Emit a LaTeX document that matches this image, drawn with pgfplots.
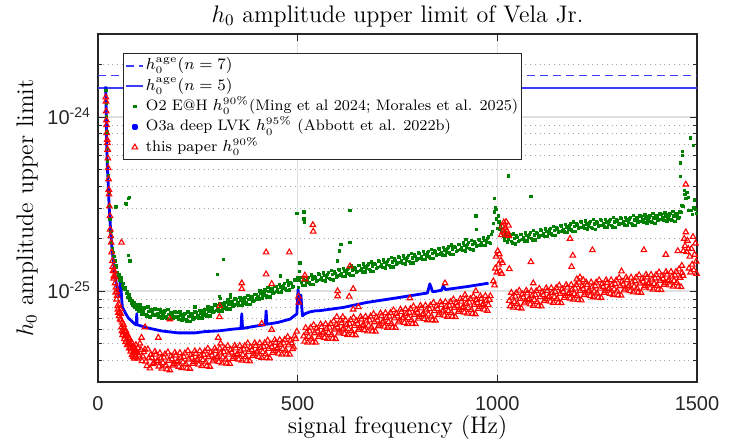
\documentclass[border=0pt]{standalone}
\usepackage{fontspec}
\setsansfont{Liberation Sans}
\usepackage{pgfplots}
\pgfplotsset{compat=1.18}
\definecolor{agecol}{RGB}{60,60,255}
\definecolor{o2green}{RGB}{0,128,0}
\definecolor{axgray}{RGB}{38,38,38}
\pgfplotsset{
  shortline legend/.style={legend image code/.code={\draw[##1] (0cm,0cm) -- (0.3cm,0cm);}},
  shortmark legend/.style={legend image code/.code={\draw[mark repeat=2,mark phase=2,##1] plot coordinates {(0cm,0cm) (0.15cm,0cm) (0.3cm,0cm)};}},
  bluedot legend/.style={legend image code/.code={\fill[blue] (0.15cm-0.7pt,-0.7pt) rectangle (0.15cm+0.7pt,0.7pt);}},
}
\begin{document}
\begin{tikzpicture}
\begin{axis}[
  scale only axis, width=299.5pt, height=174pt,
  xmin=0, xmax=1500, ymode=log, ymin=3e-26, ymax=3e-24,
  xtick={0,500,1000,1500}, xticklabels={0,500,1000,1500},
  ytick={1e-25,1e-24}, yticklabels={10\textsuperscript{-25},10\textsuperscript{-24}},
  minor ytick={4e-26,5e-26,6e-26,7e-26,8e-26,9e-26,2e-25,3e-25,4e-25,5e-25,6e-25,7e-25,8e-25,9e-25,2e-24},
  xmajorgrids, ymajorgrids, yminorgrids,
  major grid style={black!12, line width=0.8pt},
  minor grid style={black!35, dotted, line width=0.5pt},
  tick align=inside, xtick pos=both, ytick pos=both,
  major tick length=3.5pt, minor tick length=2pt,
  axis line style={axgray, line width=0.6pt},
  every tick/.style={axgray, line width=0.5pt},
  ticklabel style={font=\sffamily\fontsize{10}{12}\selectfont, text=axgray},
  xticklabel shift=3.7pt,
  yticklabel style={anchor=base east, yshift=-3.6pt},
  title={$h_0$ amplitude upper limit of Vela Jr.},
  title style={font=\fontsize{12}{14}\selectfont, at={(axis description cs:0.5,1)}, anchor=base},
  xlabel={signal frequency (Hz)},
  xlabel style={font=\fontsize{12}{14}\selectfont, at={(axis description cs:0.5,-0.1466)}, anchor=base},
  ylabel={$h_0$ amplitude upper limit},
  ylabel style={font=\fontsize{12}{14}\selectfont, at={(axis description cs:-0.1085,0.5)}, anchor=base},
  legend style={at={(axis description cs:0.0417,0.9454)}, anchor=north west, draw=axgray, line width=0.5pt, fill=white,
    font=\fontsize{7.6}{9}\selectfont, inner xsep=1pt, inner ysep=1pt, row sep=0pt,
    nodes={inner sep=0.9pt, text height=6.2pt, text depth=2.2pt}},
  legend cell align=left,
]
\addplot[agecol, dash pattern=on 4pt off 2.5pt, line width=0.8pt, shortline legend] coordinates {(0,1.73e-24) (1500,1.73e-24)};
\addlegendentry{$h_0^{\mathrm{age}}(n=7)$}
\addplot[agecol, line width=0.8pt, shortline legend] coordinates {(0,1.47e-24) (1500,1.47e-24)};
\addlegendentry{$h_0^{\mathrm{age}}(n=5)$}

% O2 E@H
\addplot[only marks, mark=square*, mark size=0.6pt, o2green, shortmark legend] coordinates {
(20,1.42e-24) (20.5,1.2e-24) (21,1.0e-24) (22,8.2e-25) (23,6.6e-25) (24,5.6e-25) (25.5,4.6e-25) (27,3.7e-25) (28.5,3.1e-25) (30,2.6e-25)
(32,2.2e-25) (34,1.9e-25) (36,1.75e-25) (38.4,1.67e-25) (40,1.58e-25) (42.6,1.49e-25) (45,1.40e-25) (46.7,1.37e-25) (49,1.28e-25) (51,1.22e-25)
(53,1.25e-25) (55,1.16e-25) (57,1.19e-25) (59,1.14e-25) (61,1.08e-25) (63,1.11e-25) (65,1.04e-25) (67,1.02e-25) (69,1.05e-25) (71,9.7e-26)
(73,9.9e-26) (75,9.2e-26) (77,9.5e-26) (79,8.9e-26) (81,9.1e-26) (83,8.5e-26) (85,8.8e-26) (87,8.3e-26) (90,8.6e-26) (92,8.1e-26) (95,8.4e-26) (97,7.9e-26)
(100,8.00e-26) (105,8.37e-26) (110,7.41e-26) (115,7.93e-26) (120,7.37e-26) (125,8.10e-26) (130,7.09e-26) (135,7.66e-26) (140,7.33e-26) (145,7.82e-26)
(150,7.42e-26) (155,7.84e-26) (160,7.01e-26) (165,7.58e-26) (170,7.12e-26) (175,7.83e-26) (180,6.85e-26) (185,7.41e-26) (190,7.09e-26) (195,7.56e-26)
(200,7.17e-26) (205,7.58e-26) (210,6.77e-26) (215,7.33e-26) (220,6.90e-26) (225,7.60e-26) (230,6.67e-26) (235,7.26e-26) (240,7.02e-26) (245,7.56e-26)
(250,7.25e-26) (255,7.76e-26) (260,7.02e-26) (265,7.68e-26) (270,7.30e-26) (275,8.13e-26) (280,7.21e-26) (285,7.89e-26) (290,7.65e-26) (295,8.27e-26)
(300,7.95e-26) (305,8.51e-26) (310,7.71e-26) (315,8.45e-26) (320,8.01e-26) (325,8.90e-26) (330,7.88e-26) (335,8.61e-26) (340,8.33e-26) (345,8.98e-26)
(350,8.60e-26) (355,9.17e-26) (360,8.27e-26) (365,9.01e-26) (370,8.54e-26) (375,9.47e-26) (380,8.37e-26) (385,9.13e-26) (390,8.82e-26) (395,9.56e-26)
(400,9.30e-26) (405,10.02e-26) (410,9.07e-26) (415,9.91e-26) (420,9.41e-26) (425,10.46e-26) (430,9.27e-26) (435,10.14e-26) (440,9.82e-26) (445,10.61e-26)
(450,10.20e-26) (455,10.92e-26) (460,9.88e-26) (465,10.82e-26) (470,10.28e-26) (475,11.45e-26) (480,10.15e-26) (485,11.07e-26) (490,10.68e-26) (495,11.55e-26)
(102.5,7.63e-26) (107.5,8.01e-26) (112.5,7.67e-26) (117.5,8.03e-26) (122.5,7.20e-26) (127.5,7.63e-26) (132.5,7.82e-26) (137.5,7.28e-26) (142.5,7.91e-26) (147.5,7.28e-26)
(152.5,7.11e-26) (157.5,7.54e-26) (162.5,7.30e-26) (167.5,7.72e-26) (172.5,6.96e-26) (177.5,7.37e-26) (182.5,7.56e-26) (187.5,7.02e-26) (192.5,7.64e-26) (197.5,7.04e-26)
(202.5,6.87e-26) (207.5,7.28e-26) (212.5,7.05e-26) (217.5,7.47e-26) (222.5,6.75e-26) (227.5,7.17e-26) (232.5,7.39e-26) (237.5,6.93e-26) (242.5,7.61e-26) (247.5,7.08e-26)
(252.5,6.99e-26) (257.5,7.50e-26) (262.5,7.35e-26) (267.5,7.86e-26) (272.5,7.18e-26) (277.5,7.71e-26) (282.5,8.01e-26) (287.5,7.54e-26) (292.5,8.31e-26) (297.5,7.75e-26)
(302.5,7.67e-26) (307.5,8.23e-26) (312.5,8.08e-26) (317.5,8.64e-26) (322.5,7.88e-26) (327.5,8.43e-26) (332.5,8.75e-26) (337.5,8.22e-26) (342.5,9.03e-26) (347.5,8.40e-26)
(352.5,8.28e-26) (357.5,8.84e-26) (362.5,8.63e-26) (367.5,9.21e-26) (372.5,8.38e-26) (377.5,8.96e-26) (382.5,9.28e-26) (387.5,8.70e-26) (392.5,9.59e-26) (397.5,9.02e-26)
(402.5,9.00e-26) (407.5,9.69e-26) (412.5,9.48e-26) (417.5,10.14e-26) (422.5,9.25e-26) (427.5,9.92e-26) (432.5,10.30e-26) (437.5,9.68e-26) (442.5,10.66e-26) (447.5,9.95e-26)
(452.5,9.84e-26) (457.5,10.56e-26) (462.5,10.35e-26) (467.5,11.08e-26) (472.5,10.12e-26) (477.5,10.86e-26) (482.5,11.25e-26) (487.5,10.54e-26) (492.5,11.61e-26)
(498,2.8e-25) (500,1.2e-25) (502,1.05e-25) (503,1.15e-25) (504,1.3e-25) (506,1.45e-25) (508,1.2e-25) (516,2.85e-25) (516,2.6e-25) (517,2.5e-25)
(510,11.20e-26) (515,11.95e-26) (520,10.77e-26) (525,11.76e-26) (530,11.15e-26) (535,12.37e-26) (540,10.93e-26) (545,11.93e-26) (550,11.54e-26) (555,12.44e-26)
(560,11.92e-26) (565,12.71e-26) (570,11.46e-26) (575,12.50e-26) (580,11.84e-26) (585,13.14e-26) (590,11.61e-26) (595,12.67e-26) (600,12.25e-26) (605,13.21e-26)
(610,12.65e-26) (615,13.49e-26) (620,12.16e-26) (625,13.27e-26) (630,12.56e-26) (635,13.94e-26) (640,12.31e-26) (645,13.44e-26) (650,12.99e-26) (655,14.00e-26)
(660,13.40e-26) (665,14.29e-26) (670,12.87e-26) (675,14.04e-26) (680,13.29e-26) (685,14.74e-26) (690,13.02e-26) (695,14.21e-26) (700,13.72e-26) (705,14.78e-26)
(710,14.16e-26) (715,15.09e-26) (720,13.60e-26) (725,14.83e-26) (730,14.05e-26) (735,15.58e-26) (740,13.76e-26) (745,15.01e-26) (750,14.50e-26) (755,15.62e-26)
(760,14.96e-26) (765,15.94e-26) (770,14.36e-26) (775,15.66e-26) (780,14.82e-26) (785,16.44e-26) (790,14.51e-26) (795,15.83e-26) (800,15.29e-26) (805,16.49e-26)
(810,15.79e-26) (815,16.84e-26) (820,15.18e-26) (825,16.56e-26) (830,15.68e-26) (835,17.41e-26) (840,15.38e-26) (845,16.79e-26) (850,16.22e-26) (855,17.48e-26)
(860,16.74e-26) (865,17.85e-26) (870,16.08e-26) (875,17.54e-26) (880,16.61e-26) (885,18.43e-26) (890,16.27e-26) (895,17.76e-26) (900,17.15e-26) (905,18.49e-26)
(910,17.72e-26) (915,18.90e-26) (920,17.04e-26) (925,18.59e-26) (930,17.62e-26) (935,19.55e-26) (940,17.28e-26) (945,18.86e-26) (950,18.23e-26) (955,19.71e-26)
(960,18.94e-26) (965,20.26e-26) (970,18.32e-26) (975,20.03e-26) (980,19.03e-26) (985,21.19e-26)
(512.5,10.78e-26) (517.5,11.53e-26) (522.5,11.27e-26) (527.5,12.02e-26) (532.5,10.94e-26) (537.5,11.72e-26) (542.5,12.14e-26) (547.5,11.39e-26) (552.5,12.52e-26) (557.5,11.64e-26)
(562.5,11.48e-26) (567.5,12.27e-26) (572.5,11.98e-26) (577.5,12.78e-26) (582.5,11.64e-26) (587.5,12.44e-26) (592.5,12.89e-26) (597.5,12.09e-26) (602.5,13.29e-26) (607.5,12.37e-26)
(612.5,12.18e-26) (617.5,13.03e-26) (622.5,12.71e-26) (627.5,13.57e-26) (632.5,12.34e-26) (637.5,13.20e-26) (642.5,13.67e-26) (647.5,12.82e-26) (652.5,14.09e-26) (657.5,13.10e-26)
(662.5,12.90e-26) (667.5,13.79e-26) (672.5,13.45e-26) (677.5,14.35e-26) (682.5,13.05e-26) (687.5,13.96e-26) (692.5,14.45e-26) (697.5,13.55e-26) (702.5,14.88e-26) (707.5,13.84e-26)
(712.5,13.63e-26) (717.5,14.57e-26) (722.5,14.22e-26) (727.5,15.16e-26) (732.5,13.79e-26) (737.5,14.75e-26) (742.5,15.27e-26) (747.5,14.32e-26) (752.5,15.73e-26) (757.5,14.62e-26)
(762.5,14.40e-26) (767.5,15.38e-26) (772.5,15.01e-26) (777.5,16.00e-26) (782.5,14.55e-26) (787.5,15.55e-26) (792.5,16.10e-26) (797.5,15.09e-26) (802.5,16.59e-26) (807.5,15.44e-26)
(812.5,15.21e-26) (817.5,16.26e-26) (822.5,15.87e-26) (827.5,16.94e-26) (832.5,15.41e-26) (837.5,16.48e-26) (842.5,17.07e-26) (847.5,16.01e-26) (852.5,17.60e-26) (857.5,16.37e-26)
(862.5,16.12e-26) (867.5,17.23e-26) (872.5,16.81e-26) (877.5,17.93e-26) (882.5,16.31e-26) (887.5,17.44e-26) (892.5,18.05e-26) (897.5,16.94e-26) (902.5,18.61e-26) (907.5,17.32e-26)
(912.5,17.07e-26) (917.5,18.25e-26) (922.5,17.82e-26) (927.5,19.02e-26) (932.5,17.31e-26) (937.5,18.51e-26) (942.5,19.18e-26) (947.5,17.99e-26) (952.5,19.80e-26) (957.5,18.47e-26)
(962.5,18.26e-26) (967.5,19.58e-26) (972.5,19.18e-26) (977.5,20.52e-26) (982.5,18.72e-26)
(988,2.20e-25) (990,2.45e-25) (992,2.85e-25) (993,3.40e-25) (995,3.00e-25) (997,2.60e-25) (998,2.95e-25) (1000,2.30e-25) (1002,2.70e-25) (1004,2.50e-25)
(1006,2.26e-25) (1008,2.40e-25) (1010,2.18e-25) (1012,2.30e-25)
(1015,20.60e-26) (1020,21.62e-26) (1025,19.19e-26) (1030,20.60e-26) (1035,19.35e-26) (1040,21.29e-26) (1045,18.71e-26) (1050,20.30e-26) (1055,19.60e-26) (1060,21.11e-26)
(1065,20.20e-26) (1070,21.56e-26) (1075,19.44e-26) (1080,21.20e-26) (1085,20.08e-26) (1090,22.26e-26) (1095,19.65e-26) (1100,21.42e-26) (1105,20.71e-26) (1110,22.32e-26)
(1115,21.40e-26) (1120,22.82e-26) (1125,20.58e-26) (1130,22.44e-26) (1135,21.26e-26) (1140,23.59e-26) (1145,20.85e-26) (1150,22.76e-26) (1155,21.99e-26) (1160,23.70e-26)
(1165,22.70e-26) (1170,24.19e-26) (1175,21.79e-26) (1180,23.75e-26) (1185,22.48e-26) (1190,24.93e-26) (1195,22.01e-26) (1200,24.01e-26) (1205,23.19e-26) (1210,24.91e-26)
(1215,23.78e-26) (1220,25.27e-26) (1225,22.71e-26) (1230,24.68e-26) (1235,23.30e-26) (1240,25.77e-26) (1245,22.69e-26) (1250,24.68e-26) (1255,23.77e-26) (1260,25.54e-26)
(1265,24.38e-26) (1270,25.91e-26) (1275,23.28e-26) (1280,25.30e-26) (1285,23.88e-26) (1290,26.41e-26) (1295,23.26e-26) (1300,25.30e-26) (1305,24.37e-26) (1310,26.19e-26)
(1315,25.01e-26) (1320,26.58e-26) (1325,23.89e-26) (1330,25.98e-26) (1335,24.53e-26) (1340,27.14e-26) (1345,23.90e-26) (1350,26.01e-26) (1355,25.06e-26) (1360,26.92e-26)
(1365,25.71e-26) (1370,27.33e-26) (1375,24.56e-26) (1380,26.70e-26) (1385,25.21e-26) (1390,27.88e-26) (1395,24.56e-26) (1400,26.72e-26) (1405,25.74e-26) (1410,27.66e-26)
(1415,26.41e-26) (1420,28.07e-26) (1425,25.22e-26) (1430,27.42e-26) (1435,25.89e-26) (1440,28.63e-26) (1445,25.22e-26) (1450,27.44e-26) (1455,26.43e-26) (1460,28.39e-26)
(1017.5,19.68e-26) (1022.5,20.71e-26) (1027.5,19.90e-26) (1032.5,20.98e-26) (1037.5,18.92e-26) (1042.5,20.10e-26) (1047.5,20.70e-26) (1052.5,19.35e-26) (1057.5,21.25e-26) (1062.5,19.75e-26)
(1067.5,19.46e-26) (1072.5,20.81e-26) (1077.5,20.31e-26) (1082.5,21.67e-26) (1087.5,19.71e-26) (1092.5,21.06e-26) (1097.5,21.79e-26) (1102.5,20.43e-26) (1107.5,22.47e-26) (1112.5,20.90e-26)
(1117.5,20.60e-26) (1122.5,22.03e-26) (1127.5,21.50e-26) (1132.5,22.95e-26) (1137.5,20.88e-26) (1142.5,22.34e-26) (1147.5,23.13e-26) (1152.5,21.71e-26) (1157.5,23.85e-26) (1162.5,22.19e-26)
(1167.5,21.85e-26) (1172.5,23.34e-26) (1177.5,22.77e-26) (1182.5,24.28e-26) (1187.5,22.08e-26) (1192.5,23.59e-26) (1197.5,24.42e-26) (1202.5,22.89e-26) (1207.5,25.11e-26) (1212.5,23.28e-26)
(1217.5,22.86e-26) (1222.5,24.35e-26) (1227.5,23.69e-26) (1232.5,25.19e-26) (1237.5,22.85e-26) (1242.5,24.35e-26) (1247.5,25.14e-26) (1252.5,23.50e-26) (1257.5,25.75e-26) (1262.5,23.86e-26)
(1267.5,23.43e-26) (1272.5,24.96e-26) (1277.5,24.28e-26) (1282.5,25.82e-26) (1287.5,23.42e-26) (1292.5,24.96e-26) (1297.5,25.76e-26) (1302.5,24.09e-26) (1307.5,26.40e-26) (1312.5,24.48e-26)
(1317.5,24.05e-26) (1322.5,25.62e-26) (1327.5,24.94e-26) (1332.5,26.52e-26) (1337.5,24.06e-26) (1342.5,25.65e-26) (1347.5,26.49e-26) (1352.5,24.77e-26) (1357.5,27.15e-26) (1362.5,25.17e-26)
(1367.5,24.72e-26) (1372.5,26.34e-26) (1377.5,25.63e-26) (1382.5,27.26e-26) (1387.5,24.73e-26) (1392.5,26.36e-26) (1397.5,27.22e-26) (1402.5,25.45e-26) (1407.5,27.89e-26) (1412.5,25.85e-26)
(1417.5,25.39e-26) (1422.5,27.05e-26) (1427.5,26.32e-26) (1432.5,27.99e-26) (1437.5,25.39e-26) (1442.5,27.07e-26) (1447.5,27.94e-26) (1452.5,26.13e-26) (1457.5,28.63e-26)
(1458,5.45e-25) (1459,4.56e-25) (1464,6.35e-25) (1464,6.0e-25) (1462,3.1e-25) (1465,3.07e-25) (1468,3.8e-25) (1470,3.6e-25) (1472,3.4e-25) (1475,3.7e-25)
(1478,3.45e-25) (1480,2.9e-25) (1483,7.6e-25) (1486,2.9e-25) (1489,2.75e-25) (1491,6.9e-25) (1492,3.0e-25) (1494,3.35e-25) (1496,2.95e-25) (1498,2.8e-25)
(44,3.05e-25) (45,3.07e-25) (70,3.2e-25) (71,3.15e-25) (76,3.4e-25) (78,3.45e-25) (76,1.6e-25) (80,1.49e-25) (243,8.1e-26) (299,1.25e-25)
(304,9.3e-26) (307,9.1e-26) (314,1.52e-25) (331,9.2e-26) (331,9.6e-26) (457,1.22e-25) (600,1.49e-25) (604,1.7e-25) (608,1.85e-25) (631,1.91e-25)
(631,2.9e-25) (921,1.98e-25) (946,2.7e-25) (947,2.26e-25) (1084,3.5e-25) (1028,4.6e-25)
};
\addlegendentry{O2 E@H $h_0^{90\%}$(Ming et al 2024; Morales et al. 2025)}

% O3a deep LVK
\addplot[blue, line width=1.4pt, line join=round, bluedot legend] coordinates {
(19.2,1.50e-24) (20,1.26e-24) (20.9,9.65e-25) (21.7,7.4e-25) (22.5,5.95e-25) (24.2,4.77e-25) (25.9,4.0e-25) (27.5,3.21e-25) (30,2.58e-25) (32.5,2.07e-25)
(35.9,1.67e-25) (40.9,1.33e-25) (46.7,1.07e-25) (52.6,9.3e-26) (55,1.05e-25) (56,1.2e-25) (57,1.1e-25) (59.3,9.0e-26) (61,8.1e-26) (67.6,7.55e-26)
(76,7.0e-26) (85,6.7e-26) (92.7,6.45e-26) (96,6.4e-26) (97,7.4e-26) (98,6.4e-26) (118,6.2e-26) (130,6.1e-26) (159,5.9e-26) (201,5.75e-26)
(243,5.75e-26) (268,5.85e-26) (300,5.9e-26) (314,5.95e-26) (340,6.05e-26) (358,6.1e-26) (360,7.4e-26) (362,6.1e-26) (397,6.3e-26) (419,6.4e-26)
(421,7.7e-26) (423,6.45e-26) (450,6.6e-26) (481,6.9e-26) (498,7.4e-26) (501,1.02e-25) (504,8.5e-26) (508,9.5e-26) (512,7.2e-26) (518,7.4e-26)
(531,7.6e-26) (545,7.7e-26) (552,7.7e-26) (614,8.05e-26) (673,8.6e-26) (756,9.2e-26) (825,9.75e-26) (831,1.1e-25) (838,9.9e-26) (860,1.01e-25)
(865,1.07e-25) (870,1.02e-25) (923,1.06e-25) (978,1.11e-25)
};
\addlegendentry{O3a deep LVK $h_0^{95\%}$ (Abbott et al. 2022b)}

% this paper
\addplot[only marks, mark=triangle, mark size=1.6pt, red, mark options={line width=0.55pt}, shortmark legend] coordinates {
(19.5,1.30e-24) (20,1.23e-24) (20.5,1.08e-24) (21,9.6e-25) (21.7,9.0e-25) (22,8.1e-25) (23,7.4e-25) (23.5,7.1e-25) (24.2,6.5e-25) (24.8,5.8e-25)
(25.5,5.1e-25) (26.5,4.4e-25) (27,3.83e-25) (27.5,3.6e-25) (28.5,3.07e-25) (30,2.7e-25) (30.5,2.26e-25) (32,2.07e-25) (33,1.9e-25) (34,1.67e-25)
(36,1.49e-25) (37,1.38e-25) (38,1.31e-25) (40,1.22e-25) (41,1.3e-25) (42.6,1.11e-25) (44,9.8e-26) (45,1.05e-25) (46.7,8.96e-26) (48,9.4e-26)
(49,8.2e-26) (50,7.85e-26) (52,8.4e-26) (53,7.2e-26) (55,6.88e-26) (56,7.9e-26) (57,7.4e-26) (59,6.2e-26) (59,1.9e-25) (61,6.6e-26)
(62,5.6e-26) (63,5.8e-26) (65,6.1e-26) (66,5.3e-26) (67,5.5e-26) (70,5.9e-26) (72,5.2e-26) (74,5.6e-26) (75,4.9e-26) (76,5.0e-26)
(79,5.3e-26) (81,4.7e-26) (84,4.63e-26) (86,5.0e-26) (89,4.4e-26) (92,4.45e-26) (95,4.9e-26) (97,4.4e-26)
(39,1.18e-25) (43,1.2e-25) (47,9.9e-26) (51,7.5e-26) (54,7.6e-26) (58,6.8e-26) (60,5.9e-26) (64,6.4e-26) (68,5.8e-26) (69,5.1e-26)
(71,5.5e-26) (73,4.9e-26) (77,5.4e-26) (78,4.7e-26) (80,5.0e-26) (82,4.5e-26) (83,4.9e-26) (85,4.3e-26) (87,4.7e-26) (88,4.2e-26)
(90,4.8e-26) (91,4.1e-26) (93,4.6e-26) (94,4.2e-26) (96,4.5e-26) (98,4.1e-26)
(100,4.70e-26) (105,5.00e-26) (110,3.96e-26) (115,4.46e-26) (120,3.94e-26) (125,4.63e-26) (130,3.60e-26) (135,4.14e-26) (140,3.88e-26) (145,4.32e-26)
(150,3.98e-26) (155,4.40e-26) (160,3.59e-26) (165,4.15e-26) (170,3.74e-26) (175,4.45e-26) (180,3.51e-26) (185,4.06e-26) (190,3.83e-26) (195,4.27e-26)
(200,3.96e-26) (205,4.41e-26) (210,3.62e-26) (215,4.19e-26) (220,3.80e-26) (225,4.53e-26) (230,3.58e-26) (235,4.15e-26) (240,3.92e-26) (245,4.37e-26)
(250,4.05e-26) (255,4.52e-26) (260,3.71e-26) (265,4.31e-26) (270,3.90e-26) (275,4.67e-26) (280,3.68e-26) (285,4.28e-26) (290,4.04e-26) (295,4.53e-26)
(300,4.20e-26) (305,4.68e-26) (310,3.85e-26) (315,4.46e-26) (320,4.05e-26) (325,4.84e-26) (330,3.82e-26) (335,4.44e-26) (340,4.19e-26) (345,4.69e-26)
(350,4.35e-26) (355,4.85e-26) (360,3.99e-26) (365,4.62e-26) (370,4.19e-26) (375,5.01e-26) (380,3.95e-26) (385,4.59e-26) (390,4.34e-26) (395,4.85e-26)
(400,4.50e-26) (405,5.02e-26) (410,4.13e-26) (415,4.79e-26) (420,4.35e-26) (425,5.20e-26) (430,4.11e-26) (435,4.78e-26) (440,4.52e-26) (445,5.05e-26)
(450,4.70e-26) (455,5.24e-26) (460,4.32e-26) (465,5.01e-26) (470,4.56e-26) (475,5.45e-26) (480,4.32e-26) (485,5.02e-26) (490,4.75e-26) (495,5.31e-26)
(102.5,4.28e-26) (107.5,4.60e-26) (112.5,4.21e-26) (117.5,4.62e-26) (122.5,3.71e-26) (127.5,4.11e-26) (132.5,4.31e-26) (137.5,3.81e-26) (142.5,4.48e-26) (147.5,3.95e-26)
(152.5,3.69e-26) (157.5,4.11e-26) (162.5,3.87e-26) (167.5,4.33e-26) (172.5,3.55e-26) (177.5,3.98e-26) (182.5,4.22e-26) (187.5,3.74e-26) (192.5,4.42e-26) (197.5,3.91e-26)
(202.5,3.68e-26) (207.5,4.13e-26) (212.5,3.90e-26) (217.5,4.39e-26) (222.5,3.60e-26) (227.5,4.05e-26) (232.5,4.30e-26) (237.5,3.83e-26) (242.5,4.52e-26) (247.5,4.01e-26)
(252.5,3.78e-26) (257.5,4.23e-26) (262.5,4.01e-26) (267.5,4.51e-26) (272.5,3.71e-26) (277.5,4.17e-26) (282.5,4.44e-26) (287.5,3.95e-26) (292.5,4.68e-26) (297.5,4.15e-26)
(302.5,3.92e-26) (307.5,4.39e-26) (312.5,4.16e-26) (317.5,4.68e-26) (322.5,3.84e-26) (327.5,4.32e-26) (332.5,4.60e-26) (337.5,4.09e-26) (342.5,4.85e-26) (347.5,4.30e-26)
(352.5,4.05e-26) (357.5,4.54e-26) (362.5,4.30e-26) (367.5,4.84e-26) (372.5,3.98e-26) (377.5,4.47e-26) (382.5,4.76e-26) (387.5,4.24e-26) (392.5,5.02e-26) (397.5,4.45e-26)
(402.5,4.19e-26) (407.5,4.71e-26) (412.5,4.46e-26) (417.5,5.03e-26) (422.5,4.13e-26) (427.5,4.66e-26) (432.5,4.95e-26) (437.5,4.42e-26) (442.5,5.23e-26) (447.5,4.64e-26)
(452.5,4.38e-26) (457.5,4.92e-26) (462.5,4.66e-26) (467.5,5.26e-26) (472.5,4.33e-26) (477.5,4.88e-26) (482.5,5.20e-26) (487.5,4.64e-26) (492.5,5.50e-26)
(515,5.50e-26) (520,6.14e-26) (525,5.06e-26) (530,5.87e-26) (535,5.34e-26) (540,6.38e-26) (545,5.06e-26) (550,5.88e-26) (555,5.57e-26) (560,6.22e-26)
(565,5.79e-26) (570,6.46e-26) (575,5.32e-26) (580,6.17e-26) (585,5.61e-26) (590,6.71e-26) (595,5.31e-26) (600,6.18e-26) (605,5.85e-26) (610,6.54e-26)
(615,6.09e-26) (620,6.79e-26) (625,5.60e-26) (630,6.49e-26) (635,5.90e-26) (640,7.05e-26) (645,5.58e-26) (650,6.49e-26) (655,6.14e-26) (660,6.87e-26)
(665,6.39e-26) (670,7.13e-26) (675,5.87e-26) (680,6.80e-26) (685,6.18e-26) (690,7.39e-26) (695,5.85e-26) (700,6.80e-26) (705,6.43e-26) (710,7.20e-26)
(715,6.70e-26) (720,7.48e-26) (725,6.16e-26) (730,7.15e-26) (735,6.50e-26) (740,7.77e-26) (745,6.15e-26) (750,7.16e-26) (755,6.77e-26) (760,7.58e-26)
(765,7.05e-26) (770,7.87e-26) (775,6.48e-26) (780,7.52e-26) (785,6.83e-26) (790,8.17e-26) (795,6.46e-26) (800,7.52e-26) (805,7.12e-26) (810,7.96e-26)
(815,7.41e-26) (820,8.26e-26) (825,6.81e-26) (830,7.89e-26) (835,7.17e-26) (840,8.57e-26) (845,6.78e-26) (850,7.88e-26) (855,7.46e-26) (860,8.34e-26)
(865,7.76e-26) (870,8.65e-26) (875,7.13e-26) (880,8.25e-26) (885,7.51e-26) (890,8.96e-26) (895,7.09e-26) (900,8.24e-26) (905,7.79e-26) (910,8.70e-26)
(915,8.09e-26) (920,9.01e-26) (925,7.43e-26) (930,8.60e-26) (935,7.81e-26) (940,9.32e-26) (945,7.37e-26) (950,8.56e-26) (955,8.09e-26) (960,9.04e-26)
(965,8.41e-26) (970,9.37e-26) (975,7.71e-26) (980,8.93e-26)
(517.5,5.13e-26) (522.5,5.77e-26) (527.5,5.47e-26) (532.5,6.17e-26) (537.5,5.08e-26) (542.5,5.73e-26) (547.5,6.10e-26) (552.5,5.44e-26) (557.5,6.44e-26) (562.5,5.72e-26)
(567.5,5.40e-26) (572.5,6.07e-26) (577.5,5.75e-26) (582.5,6.49e-26) (587.5,5.34e-26) (592.5,6.02e-26) (597.5,6.41e-26) (602.5,5.72e-26) (607.5,6.78e-26) (612.5,6.02e-26)
(617.5,5.68e-26) (622.5,6.39e-26) (627.5,6.05e-26) (632.5,6.82e-26) (637.5,5.61e-26) (642.5,6.32e-26) (647.5,6.73e-26) (652.5,6.00e-26) (657.5,7.11e-26) (662.5,6.32e-26)
(667.5,5.96e-26) (672.5,6.70e-26) (677.5,6.34e-26) (682.5,7.15e-26) (687.5,5.88e-26) (692.5,6.63e-26) (697.5,7.05e-26) (702.5,6.29e-26) (707.5,7.45e-26) (712.5,6.62e-26)
(717.5,6.25e-26) (722.5,7.03e-26) (727.5,6.65e-26) (732.5,7.51e-26) (737.5,6.17e-26) (742.5,6.97e-26) (747.5,7.42e-26) (752.5,6.62e-26) (757.5,7.84e-26) (762.5,6.97e-26)
(767.5,6.58e-26) (772.5,7.39e-26) (777.5,7.00e-26) (782.5,7.90e-26) (787.5,6.49e-26) (792.5,7.32e-26) (797.5,7.79e-26) (802.5,6.95e-26) (807.5,8.24e-26) (812.5,7.32e-26)
(817.5,6.91e-26) (822.5,7.76e-26) (827.5,7.35e-26) (832.5,8.28e-26) (837.5,6.81e-26) (842.5,7.68e-26) (847.5,8.17e-26) (852.5,7.29e-26) (857.5,8.64e-26) (862.5,7.66e-26)
(867.5,7.24e-26) (872.5,8.12e-26) (877.5,7.69e-26) (882.5,8.67e-26) (887.5,7.13e-26) (892.5,8.03e-26) (897.5,8.55e-26) (902.5,7.62e-26) (907.5,9.02e-26) (912.5,8.00e-26)
(917.5,7.54e-26) (922.5,8.47e-26) (927.5,8.02e-26) (932.5,9.03e-26) (937.5,7.42e-26) (942.5,8.35e-26) (947.5,8.88e-26) (952.5,7.91e-26) (957.5,9.36e-26) (962.5,8.31e-26)
(967.5,7.84e-26) (972.5,8.80e-26) (977.5,8.32e-26) (982.5,9.37e-26)
(990,1.14e-25) (993,1.08e-25) (995,1.35e-25) (997,1.58e-25) (999,1.28e-25) (1001,1.70e-25) (1003,1.42e-25) (1005,1.63e-25) (1007,1.30e-25) (1009,1.50e-25)
(1011,1.26e-25) (1013,1.45e-25) (1010,2.10e-25) (1012,2.35e-25) (1014,2.20e-25) (1016,2.48e-25) (1018,2.15e-25) (1020,2.30e-25) (1022,2.50e-25) (1024,2.22e-25)
(1026,2.10e-25) (1028,2.38e-25) (1029,2.08e-25)
(1030,8.80e-26) (1035,9.79e-26) (1040,8.04e-26) (1045,9.30e-26) (1050,8.45e-26) (1055,10.07e-26) (1060,7.95e-26) (1065,9.22e-26) (1070,8.70e-26) (1075,9.71e-26)
(1080,9.01e-26) (1085,10.03e-26) (1090,8.24e-26) (1095,9.53e-26) (1100,8.65e-26) (1105,10.33e-26) (1110,8.17e-26) (1115,9.50e-26) (1120,8.98e-26) (1125,10.04e-26)
(1130,9.34e-26) (1135,10.41e-26) (1140,8.57e-26) (1145,9.93e-26) (1150,9.03e-26) (1155,10.78e-26) (1160,8.53e-26) (1165,9.91e-26) (1170,9.37e-26) (1175,10.48e-26)
(1180,9.74e-26) (1185,10.86e-26) (1190,8.94e-26) (1195,10.35e-26) (1200,9.41e-26) (1205,11.22e-26) (1210,8.86e-26) (1215,10.29e-26) (1220,9.72e-26) (1225,10.85e-26)
(1230,10.08e-26) (1235,11.22e-26) (1240,9.23e-26) (1245,10.68e-26) (1250,9.69e-26) (1255,11.56e-26) (1260,9.13e-26) (1265,10.60e-26) (1270,10.01e-26) (1275,11.18e-26)
(1280,10.38e-26) (1285,11.56e-26) (1290,9.50e-26) (1295,10.99e-26) (1300,9.98e-26) (1305,11.91e-26) (1310,9.42e-26) (1315,10.94e-26) (1320,10.34e-26) (1325,11.56e-26)
(1330,10.74e-26) (1335,11.97e-26) (1340,9.85e-26) (1345,11.40e-26) (1350,10.36e-26) (1355,12.36e-26) (1360,9.77e-26) (1365,11.35e-26) (1370,10.73e-26) (1375,11.99e-26)
(1380,11.14e-26) (1385,12.41e-26) (1390,10.21e-26) (1395,11.82e-26) (1400,10.74e-26) (1405,12.83e-26) (1410,10.14e-26) (1415,11.78e-26) (1420,11.15e-26) (1425,12.45e-26)
(1430,11.58e-26) (1435,12.90e-26) (1440,10.62e-26) (1445,12.31e-26) (1450,11.17e-26) (1455,13.35e-26) (1460,10.55e-26) (1465,12.26e-26)
(1032.5,8.19e-26) (1037.5,9.18e-26) (1042.5,8.67e-26) (1047.5,9.77e-26) (1052.5,8.01e-26) (1057.5,9.01e-26) (1062.5,9.57e-26) (1067.5,8.51e-26) (1072.5,10.06e-26) (1077.5,8.91e-26)
(1082.5,8.40e-26) (1087.5,9.41e-26) (1092.5,8.89e-26) (1097.5,10.00e-26) (1102.5,8.21e-26) (1107.5,9.25e-26) (1112.5,9.84e-26) (1117.5,8.78e-26) (1122.5,10.39e-26) (1127.5,9.23e-26)
(1132.5,8.70e-26) (1137.5,9.78e-26) (1142.5,9.25e-26) (1147.5,10.43e-26) (1152.5,8.57e-26) (1157.5,9.66e-26) (1162.5,10.27e-26) (1167.5,9.16e-26) (1172.5,10.84e-26) (1177.5,9.62e-26)
(1182.5,9.08e-26) (1187.5,10.19e-26) (1192.5,9.64e-26) (1197.5,10.87e-26) (1202.5,8.92e-26) (1207.5,10.04e-26) (1212.5,10.67e-26) (1217.5,9.50e-26) (1222.5,11.23e-26) (1227.5,9.96e-26)
(1232.5,9.38e-26) (1237.5,10.52e-26) (1242.5,9.95e-26) (1247.5,11.20e-26) (1252.5,9.19e-26) (1257.5,10.34e-26) (1262.5,10.99e-26) (1267.5,9.79e-26) (1272.5,11.57e-26) (1277.5,10.26e-26)
(1282.5,9.66e-26) (1287.5,10.84e-26) (1292.5,10.24e-26) (1297.5,11.53e-26) (1302.5,9.47e-26) (1307.5,10.67e-26) (1312.5,11.34e-26) (1317.5,10.11e-26) (1322.5,11.96e-26) (1327.5,10.61e-26)
(1332.5,10.01e-26) (1337.5,11.23e-26) (1342.5,10.62e-26) (1347.5,11.97e-26) (1352.5,9.83e-26) (1357.5,11.07e-26) (1362.5,11.77e-26) (1367.5,10.49e-26) (1372.5,12.41e-26) (1377.5,11.01e-26)
(1382.5,10.38e-26) (1387.5,11.65e-26) (1392.5,11.02e-26) (1397.5,12.41e-26) (1402.5,10.19e-26) (1407.5,11.48e-26) (1412.5,12.22e-26) (1417.5,10.89e-26) (1422.5,12.89e-26) (1427.5,11.43e-26)
(1432.5,10.79e-26) (1437.5,12.12e-26) (1442.5,11.46e-26) (1447.5,12.91e-26) (1452.5,10.61e-26) (1457.5,11.95e-26) (1462.5,12.71e-26)
(1466,1.70e-25) (1468,2.00e-25) (1470,1.82e-25) (1472,2.18e-25) (1474,1.68e-25) (1476,1.95e-25) (1478,1.75e-25) (1472,4.10e-25)
(1480,1.35e-25) (1482,1.58e-25) (1484,1.28e-25) (1486,1.75e-25) (1488,1.42e-25) (1490,2.05e-25) (1492,1.32e-25) (1494,1.62e-25) (1496,1.88e-25) (1498,1.48e-25) (1499,1.26e-25)
(109,5.4e-26) (118,6.2e-26) (151,5.4e-26) (180,6.9e-26) (301,5.4e-26) (304,7.1e-26) (305,8.2e-26) (307,5.0e-26) (360,1.11e-25) (360,1.03e-25)
(410,6.5e-26) (421,1.67e-25) (421,1.25e-25) (435,1.1e-25) (435,6.0e-26) (479,1.67e-25) (498,5.85e-26) (502,9.3e-26) (503,8.6e-26) (518,1.23e-25)
(518,1.17e-25) (538,2.4e-25) (539,2.2e-25) (598,7.1e-26) (600,1.0e-25) (600,9.35e-26) (613,7.1e-26) (629,9.3e-26) (631,1.39e-25) (639,1.03e-25)
(639,7.85e-26) (652,8.1e-26) (781,9.1e-26) (869,1.11e-25) (919,9.5e-26) (946,1.0e-25) (947,8.9e-26) (1030,1.34e-25) (1084,1.47e-25) (1090,1.11e-25)
(1182,2.0e-25) (1186,1.38e-25) (1189,1.6e-25) (1199,1.17e-25) (1207,1.2e-25) (1215,1.16e-25) (1238,1.72e-25) (1311,1.3e-25) (1367,1.72e-25) (1422,1.62e-25)
(1452,1.7e-25) (1462,1.4e-25)
};
\addlegendentry{this paper $h_0^{90\%}$}

\coordinate (bl) at (rel axis cs:0,0);
\coordinate (tr) at (rel axis cs:1,1);
\end{axis}
\pgfresetboundingbox
\path ([xshift=-49pt,yshift=-30.5pt]bl) rectangle ([xshift=26.5pt,yshift=17pt]tr);
\end{tikzpicture}
\end{document}
